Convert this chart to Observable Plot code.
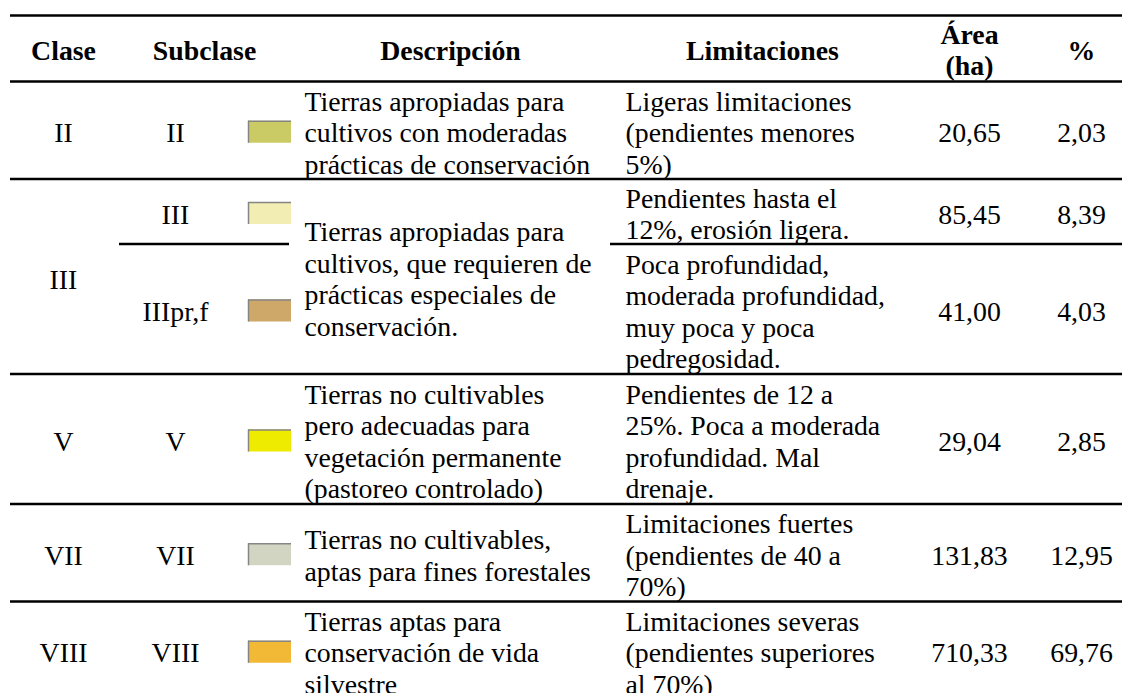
<!DOCTYPE html>
<html><head><meta charset="utf-8">
<script src="https://cdn.jsdelivr.net/npm/d3@7"></script>
<script src="https://cdn.jsdelivr.net/npm/@observablehq/plot@0.6"></script>
<style>body{margin:0;background:#fff}</style>
</head><body><div id="chart"></div>
<script>
// ---- data ----
const encabezados = ["Clase", "Subclase", "Descripción", "Limitaciones", "Área\n(ha)", "%"];
const clases = ["II", "III", "V", "VII", "VIII"];
const descripciones = [
  "Tierras apropiadas para\ncultivos con moderadas\nprácticas de conservación",
  "Tierras apropiadas para\ncultivos, que requieren de\nprácticas especiales de\nconservación.",
  "Tierras no cultivables\npero adecuadas para\nvegetación permanente\n(pastoreo controlado)",
  "Tierras no cultivables,\naptas para fines forestales",
  "Tierras aptas para\nconservación de vida\nsilvestre"
];
const subclases = ["II", "III", "IIIpr,f", "V", "VII", "VIII"];
const claseDeSubclase = ["II", "III", "III", "V", "VII", "VIII"];
const limitaciones = [
  "Ligeras limitaciones\n(pendientes menores\n5%)",
  "Pendientes hasta el\n12%, erosión ligera.",
  "Poca profundidad,\nmoderada profundidad,\nmuy poca y poca\npedregosidad.",
  "Pendientes de 12 a\n25%. Poca a moderada\nprofundidad. Mal\ndrenaje.",
  "Limitaciones fuertes\n(pendientes de 40 a\n70%)",
  "Limitaciones severas\n(pendientes superiores\nal 70%)"
];
const areas = [20.65, 85.45, 41.00, 29.04, 131.83, 710.33];
const porcentajes = [2.03, 8.39, 4.03, 2.85, 12.95, 69.76];
const coloresSubclase = ["#cbcb66", "#f2edb3", "#cda868", "#efeb00", "#d2d5c2", "#f2b937"];

// ---- layout (styles / positions) ----
const W = 1122, H = 693;
const FS = 27.8, LH = 31.5, FONT = "'Liberation Serif', 'Times New Roman', serif";
const L = {left: 10, right: 1122, top: 15, headerBottom: 81, rowUnit: 32.5, textShift: 2,
  clase: 63, subclase: 175, subHeader: 204, sw1: 248, sw2: 291, swH: 22,
  desc: 304, descHeader: 450, lim: 625, limHeader: 762, area: 969, pct: 1081,
  partial: [[119, 289], [610, 1122]]};
const headerX = [L.clase, L.subHeader, L.descHeader, L.limHeader, L.area, L.pct];

const fmt = d3.formatLocale({decimal: ",", thousands: ".", grouping: [3], currency: ["", ""]}).format(".2f");
const nLines = s => s.split("\n").length;

// rows per subclase
let yCur = L.headerBottom;
const filas = subclases.map((s, i) => {
  const c = claseDeSubclase[i];
  const ci = clases.indexOf(c);
  const single = claseDeSubclase.filter(d => d === c).length === 1;
  const n = Math.max(nLines(limitaciones[i]), single ? nLines(descripciones[ci]) : 0);
  const y0 = yCur, y1 = yCur + n * L.rowUnit;
  yCur = y1;
  return {sub: s, clase: c, ci, y0, y1, yc: (y0 + y1) / 2 + L.textShift,
    lim: limitaciones[i], area: fmt(areas[i]), pct: fmt(porcentajes[i])};
});
const grupos = clases.map((c, ci) => {
  const fs = filas.filter(f => f.clase === c);
  const y0 = fs[0].y0, y1 = fs[fs.length - 1].y1;
  return {clase: c, desc: descripciones[ci], y0, y1, yc: (y0 + y1) / 2 + L.textShift};
});

const reglas = [
  {y: L.top, x1: L.left, x2: L.right},
  {y: L.headerBottom, x1: L.left, x2: L.right},
  ...grupos.map(g => ({y: g.y1, x1: L.left, x2: L.right})),
  ...filas.filter((f, i) => i < filas.length - 1 && filas[i + 1].clase === f.clase)
    .flatMap(f => L.partial.map(([a, b]) => ({y: f.y1, x1: a, x2: b})))
];
const encab = encabezados.map((t, i) => ({t, x: headerX[i], y: (L.top + L.headerBottom) / 2 + 1}));

const txt = {fontSize: FS, fontFamily: FONT, fill: "black", lineHeight: LH / FS, lineAnchor: "middle"};

const chart = Plot.plot({
  width: W, height: H, margin: 0,
  x: {type: "identity", axis: null},
  y: {type: "identity", axis: null},
  color: {domain: subclases, range: coloresSubclase},
  style: {background: "white"},
  marks: [
    Plot.ruleY(reglas, {y: "y", x1: "x1", x2: "x2", stroke: "black", strokeWidth: 2.3}),
    Plot.rect(filas, {x1: L.sw1, x2: L.sw2, y1: d => d.yc - L.swH / 2, y2: d => d.yc + L.swH / 2, fill: "sub"}),
    Plot.ruleY(filas, {y: d => d.yc - L.swH / 2, x1: L.sw1, x2: L.sw2, stroke: "#858585", strokeWidth: 1.5}),
    Plot.ruleX(filas, {x: L.sw1, y1: d => d.yc - L.swH / 2, y2: d => d.yc + L.swH / 2, stroke: "#858585", strokeWidth: 1.5}),
    Plot.text(encab, {x: "x", y: "y", text: "t", textAnchor: "middle", fontWeight: "bold", ...txt}),
    Plot.text(grupos, {x: L.clase, y: "yc", text: "clase", textAnchor: "middle", ...txt}),
    Plot.text(grupos, {x: L.desc, y: "yc", text: "desc", textAnchor: "start", ...txt}),
    Plot.text(filas, {x: L.subclase, y: "yc", text: "sub", textAnchor: "middle", ...txt}),
    Plot.text(filas, {x: L.lim, y: "yc", text: "lim", textAnchor: "start", ...txt}),
    Plot.text(filas, {x: L.area, y: "yc", text: "area", textAnchor: "middle", ...txt}),
    Plot.text(filas, {x: L.pct, y: "yc", text: "pct", textAnchor: "middle", ...txt})
  ]
});
document.getElementById("chart").append(chart);
</script>
</body></html>
